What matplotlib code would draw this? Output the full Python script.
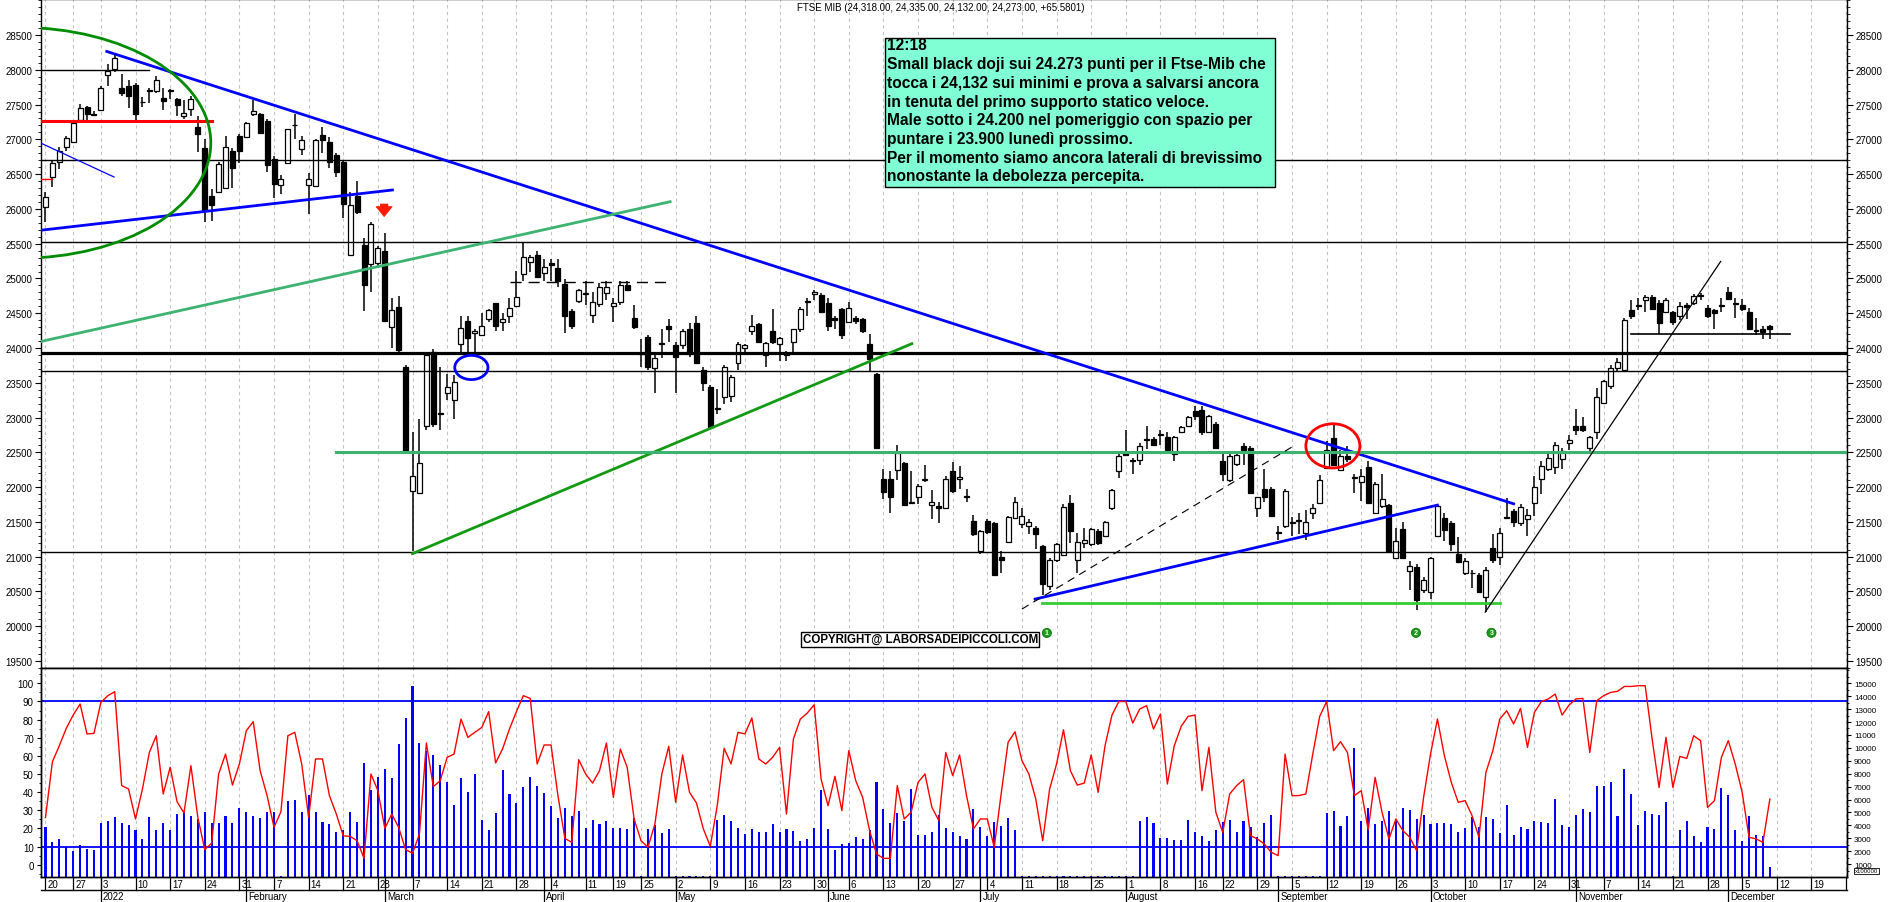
import numpy as np
import pandas as pd
import matplotlib
matplotlib.use("Agg")
import matplotlib.pyplot as plt
from matplotlib.patches import Ellipse, Rectangle
from matplotlib.transforms import blended_transform_factory, Bbox

plt.rcParams["font.family"] = ["Liberation Sans", "DejaVu Sans"]

# ---- data ----
HOLIDAYS = ["2021-12-24", "2021-12-31", "2022-04-15", "2022-04-18", "2022-08-15"]
FIRST_DAY, LAST_DAY, AXIS_END = "2021-12-20", "2022-12-09", "2022-12-30"

opens = [
    26023, 26459, 26676, 26894, 26957, 27280, 27467, 27355, 27423, 27921,
    28015, 27734, 27766, 27784, 27530, 27697, 27691, 27598, 27691, 27579,
    27330, 27442, 27174, 26882, 26191, 26241, 26303, 26832, 27050, 27037,
    27361, 27361, 27268, 26720, 26347, 26658, 27200, 26863, 26347, 26334,
    27068, 26957, 26770, 26676, 25339, 26179, 25481, 25214, 25226, 25401,
    24299, 24591, 23720, 21947, 21915, 22880, 23938, 23050, 23346, 23253,
    24062, 24386, 24218, 24187, 24417, 24641, 24374, 24454, 24610, 25058,
    25233, 25338, 25077, 25226, 25151, 24915, 24529, 24672, 24772, 24479,
    24635, 24791, 24604, 24666, 24903, 24436, 23919, 24156, 23707, 24056,
    24311, 24044, 24050, 24268, 24355, 23689, 23440, 23125, 23297, 23315,
    23783, 24000, 24249, 24342, 23894, 24249, 24062, 23906, 24093, 24280,
    24666, 24778, 24766, 24654, 24436, 24560, 24374, 24436, 24417, 24062,
    23627, 22114, 22114, 22239, 22351, 21778, 21865, 22108, 21741, 21735,
    21697, 22226, 22114, 21865, 21510, 21075, 21510, 21479, 21000, 21218,
    21554, 21467, 21448, 21417, 21156, 20583, 20957, 21031, 21778, 20957,
    21199, 21181, 21367, 21293, 21697, 22226, 22506, 22382, 22388, 22674,
    22693, 22755, 22724, 22475, 22786, 22880, 23098, 23110, 22799, 22911,
    22382, 22102, 22338, 22587, 22569, 21697, 21977, 21977, 21339, 21448,
    21488, 21510, 21343, 21635, 21778, 22276, 22712, 22239, 22444, 22133,
    22071, 22289, 21635, 21728, 21741, 20981, 21405, 20795, 20857, 20515,
    20496, 21293, 21554, 21479, 21044, 20763, 20760, 20733, 20422, 21118,
    20994, 21554, 21654, 21480, 21542, 21778, 22114, 22257, 22289, 22400,
    22631, 22880, 22880, 22569, 22786, 23210, 23459, 23708, 23689, 24542,
    24604, 24697, 24728, 24654, 24517, 24517, 24467, 24623, 24654, 24747,
    24579, 24542, 24610, 24809, 24635, 24623, 24517, 24249, 24280, 24318,
]
highs = [
    26241, 26708, 26894, 27050, 27268, 27504, 27486, 27405, 27766, 28077,
    28214, 27940, 27859, 27815, 27610, 27734, 27909, 27734, 27722, 27591,
    27567, 27629, 27330, 27007, 26284, 26670, 27050, 26876, 27081, 27255,
    27567, 27380, 27299, 26757, 26490, 27156, 27361, 27050, 26521, 27007,
    27174, 27031, 26801, 26708, 26241, 26396, 25575, 25805, 25463, 25649,
    24716, 24747, 23751, 22786, 22985, 23938, 23981, 23720, 23627, 23608,
    24467, 24467, 24280, 24498, 24560, 24654, 24498, 24716, 25102, 25525,
    25338, 25401, 25276, 25276, 25276, 24996, 24560, 24853, 24965, 24809,
    24934, 24965, 24716, 24965, 24965, 24623, 24125, 24187, 23938, 24280,
    24417, 24093, 24280, 24355, 24467, 23720, 23471, 23409, 23751, 23608,
    24093, 24062, 24479, 24355, 24093, 24560, 24156, 23956, 24280, 24591,
    24716, 24840, 24791, 24716, 24467, 24579, 24666, 24467, 24436, 24199,
    23646, 22257, 22226, 22600, 22363, 22226, 22040, 22320, 21965, 21791,
    22164, 22363, 22301, 21977, 21604, 21386, 21542, 21492, 21075, 21591,
    21853, 21697, 21542, 21448, 21168, 20981, 21199, 21760, 21884, 21342,
    21417, 21417, 21405, 21510, 21977, 22506, 22818, 22413, 22631, 22880,
    22724, 22818, 22786, 22736, 22880, 23023, 23172, 23172, 23035, 22942,
    22506, 22506, 22488, 22631, 22587, 21865, 22257, 22008, 21448, 21977,
    21573, 21635, 21666, 21760, 22177, 22662, 22911, 22537, 22587, 22195,
    22257, 22382, 22071, 22195, 21760, 21417, 21492, 20932, 20888, 20702,
    20994, 21760, 21635, 21510, 21280, 20981, 20807, 20764, 20845, 21324,
    21417, 21841, 21679, 21760, 21679, 22164, 22382, 22506, 22649, 22569,
    22755, 23129, 23004, 22736, 23421, 23546, 23751, 23857, 24436, 24685,
    24716, 24766, 24766, 24685, 24716, 24529, 24666, 24654, 24778, 24791,
    24623, 24560, 24716, 24871, 24716, 24704, 24579, 24436, 24311, 24335,
]
lows = [
    25805, 26322, 26571, 26832, 26944, 27255, 27280, 27330, 27405, 27766,
    27965, 27629, 27454, 27280, 27467, 27517, 27672, 27423, 27579, 27330,
    27299, 27342, 26819, 25805, 25824, 26222, 26284, 26303, 26658, 27019,
    27330, 27081, 26533, 26160, 26210, 26645, 27007, 26770, 25930, 26322,
    26801, 26583, 26458, 25867, 25339, 25930, 24529, 24809, 25151, 24374,
    24000, 23938, 22480, 21075, 21900, 22818, 22861, 22818, 23253, 22973,
    23938, 23938, 23875, 24168, 24374, 24249, 24249, 24355, 24591, 24965,
    25090, 25010, 24965, 24965, 24872, 24218, 24280, 24654, 24623, 24355,
    24591, 24685, 24374, 24623, 24828, 24280, 23720, 23689, 23347, 23857,
    24093, 23347, 23981, 23876, 23770, 23378, 22849, 23048, 23191, 23222,
    23689, 23907, 24187, 24080, 23733, 24062, 23814, 23814, 23907, 24230,
    24467, 24685, 24498, 24249, 24280, 24125, 24355, 24342, 24218, 23670,
    22550, 21822, 21635, 22102, 21728, 21760, 21760, 22071, 21542, 21479,
    21680, 21915, 21977, 21791, 21293, 21044, 21324, 20720, 20764, 21199,
    21542, 21417, 21324, 21106, 20452, 20515, 20919, 21013, 21199, 20764,
    21118, 21156, 21168, 21280, 21666, 22133, 22444, 22195, 22320, 22550,
    22587, 22600, 22525, 22382, 22774, 22861, 22961, 22755, 22786, 22550,
    22089, 22071, 22301, 22320, 21900, 21572, 21791, 21572, 21243, 21417,
    21293, 21324, 21243, 21542, 21760, 22257, 22301, 22226, 22363, 21915,
    21803, 21760, 21616, 21697, 21060, 20969, 20969, 20515, 20235, 20471,
    20391, 21280, 21230, 21075, 20907, 20733, 20546, 20484, 20204, 20907,
    20882, 21542, 21430, 21448, 21293, 21591, 21903, 22226, 22195, 22257,
    22537, 22755, 22799, 22525, 22693, 23191, 23409, 23658, 23670, 24417,
    24542, 24517, 24542, 24206, 24498, 24330, 24405, 24417, 24623, 24685,
    24436, 24268, 24517, 24685, 24436, 24529, 24268, 24187, 24125, 24132,
]
closes = [
    26178, 26665, 26832, 27019, 27237, 27454, 27361, 27361, 27734, 27983,
    28170, 27660, 27629, 27361, 27536, 27703, 27847, 27548, 27697, 27498,
    27380, 27585, 27081, 25979, 26054, 26646, 26894, 26583, 26832, 27237,
    27405, 27093, 26627, 26353, 26428, 27143, 27206, 26988, 26428, 26988,
    26988, 26676, 26533, 26066, 26054, 25961, 24903, 25786, 25432, 24392,
    24542, 23969, 22506, 22164, 22351, 23894, 22911, 23054, 23440, 23515,
    24292, 24143, 24249, 24311, 24542, 24311, 24417, 24573, 24728, 25307,
    25307, 25027, 25164, 25195, 24965, 24467, 24311, 24828, 24778, 24666,
    24884, 24884, 24654, 24903, 24840, 24299, 23925, 23720, 23857, 24062,
    24268, 23876, 24249, 23907, 23783, 23490, 22861, 23129, 23733, 23577,
    24062, 24050, 24311, 24093, 24075, 24093, 24137, 23913, 24268, 24560,
    24672, 24809, 24517, 24311, 24405, 24187, 24579, 24392, 24249, 23845,
    22569, 21928, 21853, 22488, 21741, 21785, 22021, 22114, 21791, 21697,
    22114, 21947, 22139, 21872, 21324, 21367, 21355, 20733, 20950, 21573,
    21791, 21591, 21492, 21324, 20608, 20957, 21187, 21716, 21367, 21218,
    21243, 21405, 21199, 21492, 21965, 22444, 22463, 22388, 22587, 22680,
    22612, 22761, 22537, 22724, 22861, 23004, 23023, 22786, 23023, 22569,
    22195, 22444, 22463, 22537, 21915, 21853, 21865, 21591, 21345, 21946,
    21492, 21514, 21492, 21697, 22102, 22537, 22320, 22444, 22400, 22139,
    22164, 21778, 22052, 21822, 21075, 21230, 20981, 20870, 20372, 20671,
    20982, 21728, 21386, 21181, 20919, 20932, 20764, 20496, 20807, 20950,
    21342, 21560, 21492, 21716, 21592, 22008, 22301, 22413, 22612, 22525,
    22674, 22818, 22818, 22724, 23297, 23521, 23708, 23794, 24405, 24454,
    24610, 24728, 24560, 24355, 24685, 24374, 24604, 24591, 24741, 24753,
    24454, 24498, 24616, 24704, 24641, 24560, 24280, 24255, 24230, 24273,
]
volumes = [
    3846, 2684, 2942, 2297, 2039, 2478, 2168, 2116, 4181, 4362,
    4620, 4181, 4026, 3639, 2942, 4620, 3639, 4181, 3639, 4878,
    5007, 4749, 4491, 5059, 4181, 4181, 4749, 4181, 5317, 5007,
    4749, 4543, 5059, 5059, 52, 5910, 5988, 5059, 6375, 5007,
    4284, 4104, 3510, 3665, 5059, 4284, 8827, 6762, 7743, 8362,
    7640, 10324, 12311, 14789, 10376, 9782, 9446, 8672, 7382, 5575,
    7691, 6607, 8001, 4414, 3665, 4956, 8311, 6427, 5730, 6943,
    7769, 7072, 6504, 5523, 4568, 5343, 4749, 5085, 3794, 4414,
    4104, 4310, 3768, 3794, 3717, 4568, 52, 3717, 4052, 3381,
    3717, 52, 52, 52, 52, 52, 52, 4414, 4801, 4336,
    3768, 3355, 3717, 3510, 3510, 4104, 3510, 3717, 3588, 2813,
    2942, 3768, 6762, 3717, 2116, 2555, 2633, 3123, 2942, 3639,
    7382, 5265, 4181, 4930, 4362, 6814, 3252, 3252, 3510, 4801,
    3794, 3510, 3149, 2942, 5265, 3897, 3149, 4284, 3923, 4568,
    3613, 52, 52, 52, 52, 52, 52, 52, 52, 52,
    52, 52, 52, 52, 52, 52, 52, 52, 4362, 4620,
    4181, 2994, 3020, 2865, 2865, 4414, 3459, 3200, 2787, 3639,
    4284, 4414, 3510, 4310, 3897, 3071, 4181, 4801, 52, 52,
    52, 52, 52, 52, 52, 4930, 5110, 3923, 4749, 9988,
    4362, 5343, 4104, 4362, 5110, 4362, 5343, 5188, 4491, 4801,
    4104, 4181, 4181, 4104, 3510, 3768, 4620, 3846, 4620, 4491,
    3381, 5575, 3252, 3897, 3717, 4362, 4284, 4181, 6040, 4026,
    3846, 4801, 5265, 5007, 7020, 7020, 7330, 4749, 8362, 6427,
    4026, 5136, 4878, 4801, 5781, 52, 3639, 4362, 3149, 2736,
    3846, 3717, 6865, 6375, 3639, 2813, 4697, 3252, 3200, 774,
]
oscillator = [
    26, 56.8, 65.6, 75.2, 82.5, 88.6, 72.1, 72.4, 89.5, 93.2,
    95.4, 43.6, 41.7, 25.2, 41.7, 61.9, 71.1, 39, 53.7, 34.7,
    28.5, 54.6, 26.1, 8.3, 11.9, 50, 61, 43.9, 55.5, 73.9,
    78.9, 51.8, 38.1, 20.6, 29.2, 71.1, 73, 55.5, 26.1, 58.3,
    58.3, 38.1, 27.9, 15.9, 15.6, 13.2, 3.5, 50, 40.8, 20,
    27.9, 20.6, 8.3, 6.3, 16.9, 67.1, 43, 46.3, 59.2, 61,
    80.3, 70.2, 73, 75.7, 84.4, 56.1, 63.8, 74.8, 84.4, 93.2,
    91.7, 55.5, 66, 66, 38.1, 14.5, 12.3, 57.9, 50, 45,
    51.8, 67.1, 37.1, 63.8, 53.7, 25.2, 13.2, 9.6, 22.4, 50,
    65.3, 34.4, 60.5, 39.9, 34, 19.7, 10.1, 32.5, 64.2, 55.5,
    73, 72.1, 80.9, 58.3, 55.5, 59.2, 64.7, 27.9, 69.3, 80.3,
    83.6, 88.2, 47.2, 32.5, 48.7, 29.8, 62.9, 46.3, 37.1, 18.8,
    5.9, 3.5, 3.5, 43.6, 25.2, 28.9, 45.4, 50, 31.6, 24.3,
    61.9, 49.1, 60.5, 38.1, 19.7, 25.2, 25.2, 9.6, 39, 67.5,
    73.3, 57.4, 50, 36.2, 13.2, 41.7, 55.5, 74.4, 51.8, 43.9,
    45, 60.5, 39.9, 65.6, 82.5, 90, 90, 78.1, 85.8, 87.7,
    74.8, 83.1, 44.5, 65.6, 76.3, 81.8, 82.5, 40.8, 64.7, 28.9,
    17.8, 39, 43.6, 46.9, 16, 14.2, 11.4, 6.8, 5, 61,
    38.1, 38.1, 39, 61, 81.8, 90, 62.9, 67.8, 61.9, 38.1,
    40.8, 19.3, 48.2, 28.9, 14.2, 25.2, 18.8, 15.1, 7.7, 37.1,
    61, 80.3, 60.1, 45.4, 34.4, 35.3, 27, 15.1, 50.9, 62.9,
    80.3, 84.9, 77.6, 86.2, 64.7, 84, 89.9, 91.4, 94.1, 82.5,
    88, 91.4, 91.7, 61.9, 90.4, 93.2, 95, 95.6, 98.3, 98.3,
    98.7, 98.7, 69.3, 42.6, 70.2, 42.6, 59.7, 58.6, 71.1, 68.4,
    31.6, 35.3, 59.2, 68.4, 55.5, 39.9, 15.1, 14.2, 12.3, 36.2,
]

# hand-drawn studies on the price chart: (x0, p0, x1, p1) in trading-day index / points
support_levels = [26707, 25530, 23670, 21065]
key_level = 23925
blue_trends = [(8.85, 28264, 212.0, 21760), (-0.7, 25693, 50.1, 26272), (142.9, 20390, 201.0, 21741)]
blue_thin = (-0.5, 26938, 9.9, 26459)
green_light = (-0.7, 24093, 90.2, 26104)
green_dark = (53.0, 21044, 125.1, 24062)
green_level = (41.9, 22500)
lime_level = (143.9, 210.0, 20340)
dashed_level = (67.1, 90.2, 24946)
dashed_trend = (141.0, 20247, 180.0, 22577)
black_trend = (207.9, 20203, 241.9, 25245)
black_level = (228.9, 251.9, 24199)
top_level = (-0.7, 14.9, 28000)
red_level = (-0.7, 24.0, 27261)
red_tick = (-0.7, 0.9, 26427)
green_ellipse = (-3.68, 26950, 55.1, 3318)
blue_ellipse = (61.5, 23720, 4.8, 348)
red_ellipse = (185.9, 22593, 7.8, 635)
arrow_at = (48.9, 26110, 25850)
bottoms = [("1", 144.6, 19903), ("2", 197.9, 19905), ("3", 208.8, 19905)]

TITLE = "FTSE MIB (24,318.00, 24,335.00, 24,132.00, 24,273.00, +65.5801)"
NOTE_LINES = [
    "12:18",
    "Small black doji sui 24.273 punti per il Ftse-Mib che",
    "tocca i 24,132 sui minimi e prova a salvarsi ancora",
    "in tenuta del primo supporto statico veloce.",
    "Male sotto i 24.200 nel pomeriggio con spazio per",
    "puntare i 23.900 lunedì prossimo.",
    "Per il momento siamo ancora laterali di brevissimo",
    "nonostante la debolezza percepita.",
]
MONTH_NAMES = {1: "2022", 2: "February", 3: "March", 4: "April", 5: "May", 6: "June",
               7: "July", 8: "August", 9: "September", 10: "October",
               11: "November", 12: "December"}

# ---- calendar ----
days = pd.bdate_range(FIRST_DAY, LAST_DAY)
days = days[~days.isin(pd.to_datetime(HOLIDAYS))]
future = pd.bdate_range(pd.Timestamp(LAST_DAY) + pd.Timedelta(days=1), AXIS_END)
calendar = days.append(future)
n = len(opens)
x = np.arange(n)
o, h, l, c = map(np.array, (opens, highs, lows, closes))

week_starts = [i for i in range(len(calendar))
               if i == 0 or calendar[i].isocalendar()[1] != calendar[i - 1].isocalendar()[1]]
month_starts = [i for i in range(1, n) if calendar[i].month != calendar[i - 1].month]

# ---- figure ----
W, H = 1890, 903
fig = plt.figure(figsize=(W / 100, H / 100), dpi=100)
fig.patch.set_facecolor("white")

def fy(py):
    return 1 - py / H

XL, XR = 40.7, 1847
XLIM = (-0.69, 260.14)
ax = fig.add_axes([XL / W, fy(669.3), (XR - XL) / W, 669.3 / H])
axv = fig.add_axes([XL / W, fy(878), (XR - XL) / W, (878 - 669.3) / H])
axo = axv.twinx()

for a in (ax, axv, axo):
    a.set_xlim(*XLIM)
    for s in a.spines.values():
        s.set_linewidth(1.0)
ax.set_ylim(19395, 29018)
axv.set_ylim(0, 16160)
axo.set_ylim(-6.8, 108.3)

# grid
for w in week_starts:
    for a in (ax, axv):
        a.axvline(w, color="#c4c4c4", lw=0.8, ls=(0, (3, 3)), zorder=0)

# candles
up = c >= o
bot = np.minimum(o, c)
hgt = np.maximum(np.abs(c - o), 12)
ax.vlines(x, l, h, color="black", lw=1.1, zorder=3)
ax.bar(x[up], hgt[up], bottom=bot[up], width=0.72, facecolor="white",
       edgecolor="black", lw=0.9, zorder=4)
ax.bar(x[~up], hgt[~up], bottom=bot[~up], width=0.72, facecolor="black",
       edgecolor="black", lw=0.9, zorder=4)

# studies
for lv in support_levels:
    ax.axhline(lv, color="black", lw=1.0, zorder=5)
ax.axhline(key_level, color="black", lw=2.3, zorder=5)
for x0, p0, x1, p1 in blue_trends:
    ax.plot([x0, x1], [p0, p1], color="#0000ff", lw=2.0, zorder=6)
ax.plot(blue_thin[::2], blue_thin[1::2], color="#0000ff", lw=0.9, zorder=6)
ax.plot(green_light[::2], green_light[1::2], color="#3cb371", lw=2.0, zorder=6)
ax.plot(green_dark[::2], green_dark[1::2], color="#139a13", lw=2.0, zorder=6)
ax.plot([green_level[0], XLIM[1]], [green_level[1]] * 2, color="#3cb371", lw=2.2, zorder=6)
ax.plot(lime_level[:2], [lime_level[2]] * 2, color="#33cc33", lw=2.0, zorder=6)
ax.plot(dashed_level[:2], [dashed_level[2]] * 2, color="black", lw=1.0, ls=(0, (8, 5)), zorder=6)
ax.plot(dashed_trend[::2], dashed_trend[1::2], color="black", lw=0.8, ls=(0, (7, 5)), zorder=6)
ax.plot(black_trend[::2], black_trend[1::2], color="black", lw=0.9, zorder=6)
ax.plot(black_level[:2], [black_level[2]] * 2, color="black", lw=1.2, zorder=6)
ax.plot(top_level[:2], [top_level[2]] * 2, color="black", lw=1.0, zorder=6)
ax.plot(red_level[:2], [red_level[2]] * 2, color="#ff0000", lw=2.2, zorder=6)
ax.plot(red_tick[:2], [red_tick[2]] * 2, color="#ff0000", lw=1.0, zorder=6)
for (cx, cy, ew, eh), col in ((green_ellipse, "#008c00"), (blue_ellipse, "#0000ff"), (red_ellipse, "#ff0000")):
    ax.add_patch(Ellipse((cx, cy), ew, eh, fill=False, ec=col, lw=2.0, zorder=7))
ax.annotate("", xy=(arrow_at[0], arrow_at[2]), xytext=(arrow_at[0], arrow_at[1]),
            arrowprops=dict(arrowstyle="simple,head_length=0.55,head_width=0.9,tail_width=0.42",
                            fc="#ff1a00", ec="#ff1a00", lw=0.5, mutation_scale=13), zorder=8)
for lab, bx, by in bottoms:
    ax.text(bx, by, lab, fontsize=5, color="white", fontweight="bold", ha="center", va="center",
            bbox=dict(boxstyle="circle,pad=0.15", fc="#1a9a1a", ec="#0b7a0b", lw=0.6), zorder=9)
ax.text(126.3, 19812, "COPYRIGHT@ LABORSADEIPICCOLI.COM", fontsize=8.3, fontweight="bold",
        ha="center", va="center", zorder=9,
        bbox=dict(boxstyle="square,pad=0.12", fc="white", ec="black", lw=1.0))

# price axis ticks
ax.set_yticks(np.arange(19500, 28501, 500))
ax.set_yticks(np.arange(19400, 29001, 100), minor=True)
ax.tick_params(axis="y", which="both", left=True, right=True, labelleft=True, labelright=True,
               direction="out", labelsize=7, pad=2)
ax.tick_params(axis="y", which="major", length=4, width=0.8)
ax.tick_params(axis="y", which="minor", length=2, width=0.6)
ax.tick_params(axis="x", which="both", bottom=False, labelbottom=False)

# lower panel: volume + oscillator
axv.bar(x, volumes, width=0.3, color="#0000ff", zorder=2)
axo.plot(x, oscillator, color="#ff0000", lw=1.0, zorder=3)
axo.axhline(90, color="#0000ff", lw=1.3)
axo.axhline(10, color="#0000ff", lw=1.3)
axv.yaxis.tick_right()
axo.yaxis.tick_left()
axv.set_yticks(np.arange(1000, 15001, 1000))
axv.tick_params(axis="y", which="major", labelsize=5.8, length=3, direction="out", pad=2)
axv.set_yticks(np.arange(500, 16001, 500), minor=True)
axv.tick_params(axis="y", which="minor", length=1.5, direction="out")
axo.set_yticks(np.arange(0, 101, 10))
axo.set_yticks(np.arange(-5, 106, 5), minor=True)
axo.tick_params(axis="y", which="major", labelsize=7, length=3, direction="out", pad=2)
axo.tick_params(axis="y", which="minor", length=1.5, direction="out")
for a in (axv, axo):
    a.tick_params(axis="x", which="both", bottom=False, labelbottom=False)

# date rows under the lower panel
tr = blended_transform_factory(axv.transData, fig.transFigure)
clip = Bbox.from_extents(0, 0, XR, H)
axv.plot(XLIM, [fy(890.7)] * 2, transform=tr, color="black", lw=1.0, clip_on=False)
for w in week_starts:
    axv.plot([w, w], [fy(878), fy(890.7)], transform=tr, color="black", lw=0.9, clip_on=False)
    t = axv.text(w + 0.3, fy(884.8), str(calendar[w].day), transform=tr, fontsize=7,
                 ha="left", va="center")
    t.set_clip_box(clip)
    t.set_clip_on(True)
for m in month_starts:
    axv.plot([m, m], [fy(878), fy(903)], transform=tr, color="black", lw=0.9, clip_on=False)
    axv.text(m + 0.3, fy(897.5), MONTH_NAMES[calendar[m].month], transform=tr, fontsize=7,
             ha="left", va="center")

fig.text(1866.5 / W, fy(872), "x100000", fontsize=4.3, ha="center", va="center",
         bbox=dict(boxstyle="square,pad=0.15", fc="white", ec="black", lw=0.6))

# header and note box
fig.text(797.3 / W, fy(8.3), TITLE, fontsize=7, ha="left", va="center")
fig.add_artist(Rectangle((885 / W, fy(187.5)), 390 / W, 148.9 / H, transform=fig.transFigure,
                         fc="#80ffd4", ec="black", lw=1.0, zorder=5))
for k, line in enumerate(NOTE_LINES):
    fig.text(887.5 / W, fy(46 + 18.7 * k), line, fontsize=11.2, fontweight="bold",
             ha="left", va="center", zorder=6)

fig.savefig("out.png", dpi=100)
